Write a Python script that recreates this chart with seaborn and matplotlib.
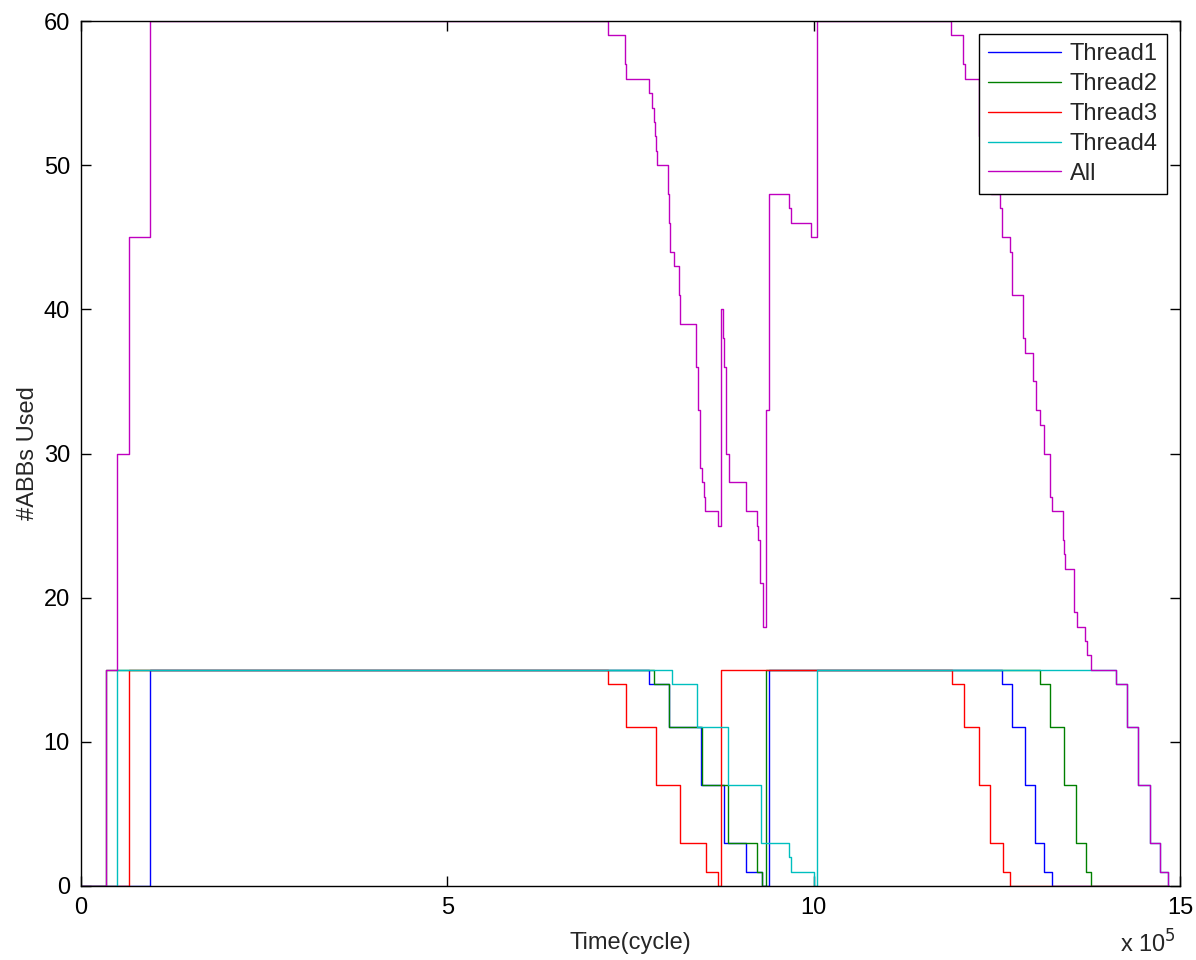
import numpy as np
import pandas as pd
import matplotlib
matplotlib.use("Agg")
import matplotlib.pyplot as plt
import seaborn as sns

# ---- data (time in units of 1e5 cycles) ----
t1_x = [0, 0.947, 7.75, 8.03, 8.46, 8.78, 9.07, 9.29, 9.39, 12.57, 12.71, 12.88, 13.02, 13.15, 13.25, 14.85]
t1_y = [0, 15,    14,   11,   7,    3,    1,    0,    15,   14,    11,    7,     3,     1,     0,     0]

t2_x = [0, 0.34, 7.82, 8.03, 8.48, 8.83, 9.23, 9.30, 9.345, 13.09, 13.23, 13.42, 13.58, 13.72, 13.78, 14.85]
t2_y = [0, 15,   14,   11,   7,    3,    1,    0,    15,    14,    11,    7,     3,     1,     0,     0]

t3_x = [0, 0.65, 7.19, 7.44, 7.85, 8.17, 8.53, 8.69, 8.73, 11.89, 12.05, 12.25, 12.41, 12.58, 12.68, 14.85]
t3_y = [0, 15,   14,   11,   7,    3,    1,    0,    15,   14,    11,    7,     3,     1,     0,     0]

t4_x = [0, 0.487, 8.07, 8.41, 8.83, 9.28, 9.67, 9.69, 10.0, 10.05, 14.12, 14.28, 14.43, 14.59, 14.73, 14.84, 14.85]
t4_y = [0, 15,    14,   11,   7,    3,    2,    1,    0,    15,    14,    11,    7,     3,     1,     0,     0]

all_x = [0, 0.34, 0.487, 0.65, 0.947,
         7.19, 7.43, 7.44, 7.75, 7.80, 7.82, 7.835, 7.85, 7.865,
         8.01, 8.02, 8.03, 8.04, 8.09, 8.16, 8.17,
         8.40, 8.42, 8.45, 8.47, 8.50, 8.52, 8.69,
         8.73, 8.756, 8.77, 8.80, 8.85, 9.07, 9.08,
         9.23, 9.24, 9.27, 9.31, 9.345, 9.39,
         9.67, 9.69, 9.97, 10.05,
         11.88, 12.04, 12.06, 12.26, 12.42, 12.55, 12.57,
         12.68, 12.71, 12.86, 12.89, 13.00, 13.03,
         13.09, 13.15, 13.22, 13.25, 13.40, 13.42, 13.43,
         13.55, 13.59, 13.70, 13.73, 13.78,
         14.12, 14.28, 14.43, 14.59, 14.73, 14.84, 14.85]
all_y = [0, 15, 30, 45, 60,
         59, 57, 56, 55, 54, 53, 52, 51, 50,
         48, 47, 46, 44, 43, 41, 39,
         36, 33, 29, 28, 27, 26, 25,
         40, 38, 36, 30, 28, 27, 26,
         25, 24, 21, 18, 33, 48,
         47, 46, 45, 60,
         59, 57, 56, 52, 48, 47, 45,
         44, 41, 38, 37, 35, 33,
         32, 30, 27, 26, 24, 23, 22,
         19, 18, 17, 16, 15,
         14, 11, 7, 3, 1, 0, 0]

series_names = ["Thread1", "Thread2", "Thread3", "Thread4", "All"]
series_colors = ["#0000ff", "#008000", "#ff0000", "#00bfbf", "#bf00bf"]

x_ticks = [0, 5, 10, 15]
y_ticks = [0, 10, 20, 30, 40, 50, 60]

frames = []
for name, xs, ys in zip(series_names,
                        [t1_x, t2_x, t3_x, t4_x, all_x],
                        [t1_y, t2_y, t3_y, t4_y, all_y]):
    frames.append(pd.DataFrame({"time": xs, "abbs": ys, "series": name}))
df = pd.concat(frames, ignore_index=True)

sns.set_style("ticks")
plt.rcParams["font.family"] = ["Liberation Sans", "DejaVu Sans"]
plt.rcParams["xtick.direction"] = "in"
plt.rcParams["ytick.direction"] = "in"

fig = plt.figure(figsize=(11.96, 9.6), dpi=100)
ax = fig.add_axes([81 / 1196, 74 / 960, (1180 - 81) / 1196, (886 - 21) / 960])

sns.lineplot(data=df, x="time", y="abbs", hue="series", hue_order=series_names,
             palette=dict(zip(series_names, series_colors)), estimator=None,
             sort=False, drawstyle="steps-post", linewidth=1.0, ax=ax)

ax.set_xlim(0, 15)
ax.set_ylim(0, 60)
ax.set_xticks(x_ticks)
ax.set_yticks(y_ticks)
ax.tick_params(axis="both", which="both", direction="in", length=7.5, width=1,
               top=True, right=True, labelsize=17, pad=8, colors="black")
for sp in ax.spines.values():
    sp.set_visible(True)
    sp.set_linewidth(1.0)
    sp.set_color("black")

ax.set_xlabel("Time(cycle)", fontsize=17, labelpad=9)
ax.set_ylabel("#ABBs Used", fontsize=17, labelpad=3)
fig.text(1148 / 1196, 1 - 953 / 960, r"x 10$^{5}$", fontsize=17, ha="center", va="baseline")

handles, labels = ax.get_legend_handles_labels()
leg = ax.legend(handles, labels, loc="upper right", fontsize=17, frameon=True,
                fancybox=False, shadow=False, edgecolor="black", framealpha=1,
                handlelength=3.1, handletextpad=0.35, labelspacing=0.33,
                borderpad=0.4, borderaxespad=0.55)
leg.get_frame().set_linewidth(1.0)
for h in leg.get_lines():
    h.set_linewidth(1.0)

fig.savefig("out.png", dpi=100)
